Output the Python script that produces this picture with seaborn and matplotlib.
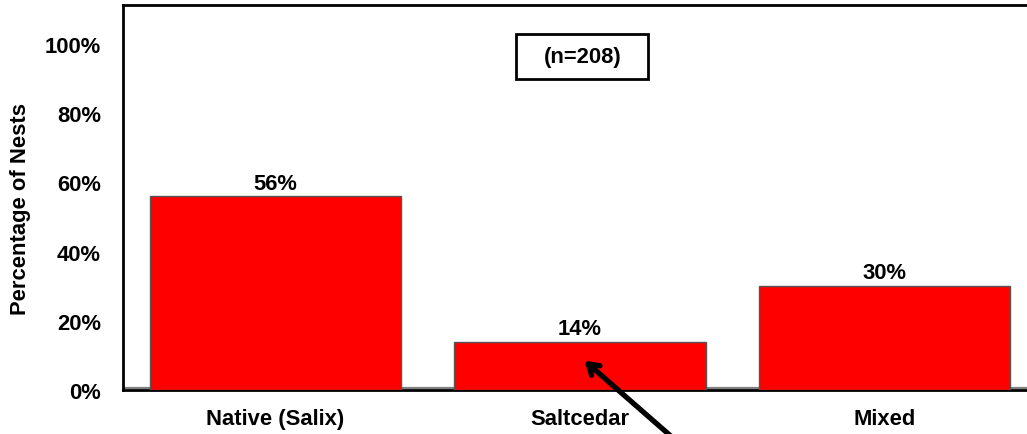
import matplotlib
matplotlib.use("Agg")
import matplotlib.pyplot as plt
import seaborn as sns
import pandas as pd
from matplotlib.patches import Rectangle
from matplotlib.ticker import FuncFormatter

# Nest substrate data
categories = ["Native (Salix)", "Saltcedar", "Mixed"]
percent_nests = [56, 14, 30]
y_ticks = [0, 20, 40, 60, 80, 100]
sample_label = "(n=208)"

df = pd.DataFrame({"Substrate": categories, "Percent": percent_nests})

sns.set_theme(style="white")
plt.rcParams["font.family"] = ["Liberation Sans", "DejaVu Sans"]
plt.rcParams["font.weight"] = "bold"

FS = 15.8
fig = plt.figure(figsize=(10.27, 4.35), dpi=100)
ax = fig.add_axes([123 / 1027, 44 / 435, 914 / 1027, 385 / 435])

sns.barplot(data=df, x="Substrate", y="Percent", color="#ff0000",
            saturation=1, width=0.826, edgecolor="#555555", linewidth=1,
            ax=ax, zorder=3)

# gray chart floor under the bars
ax.axhline(0.5, color="#808080", lw=1.6, zorder=1)

ax.set_ylim(0, 111.3)
ax.set_xlim(-0.5, 2.5)
ax.set_yticks(y_ticks)
ax.yaxis.set_major_formatter(FuncFormatter(lambda v, p: f"{int(v)}%"))
ax.tick_params(axis="both", length=0, labelsize=FS, colors="black")
ax.tick_params(axis="y", pad=16)
ax.tick_params(axis="x", pad=13)
for lab in ax.get_xticklabels() + ax.get_yticklabels():
    lab.set_fontweight("bold")

ax.set_xlabel("")
ax.set_ylabel("Percentage of Nests", fontsize=FS, fontweight="bold",
              color="black", va="center")
ax.yaxis.set_label_coords(-0.112, 0.473)

for side in ["left", "top", "bottom"]:
    ax.spines[side].set_visible(True)
    ax.spines[side].set_color("black")
    ax.spines[side].set_linewidth(2)
ax.spines["right"].set_visible(False)

ax.bar_label(ax.containers[0], labels=[f"{v}%" for v in percent_nests],
             padding=2, fontsize=FS, fontweight="bold", color="black")

# sample-size box
box_center = (1.008, 96.4)
box_w, box_h = 0.433, 13.0
ax.add_patch(Rectangle((box_center[0] - box_w / 2, box_center[1] - box_h / 2),
                       box_w, box_h, fc="white", ec="black", lw=2, zorder=4))
ax.text(box_center[0], box_center[1], sample_label, ha="center", va="center",
        fontsize=FS, fontweight="bold", color="black", zorder=5)

# arrow pointing at the saltcedar bar
arrow_tip = (1.008, 9.0)
arrow_tail = (1.32, -15.0)
ax.annotate("", xy=arrow_tip, xytext=arrow_tail, annotation_clip=False,
            arrowprops=dict(arrowstyle="->,head_length=0.6,head_width=0.38",
                            lw=3.8, color="black"), zorder=5)

fig.savefig("out.png", dpi=100)
